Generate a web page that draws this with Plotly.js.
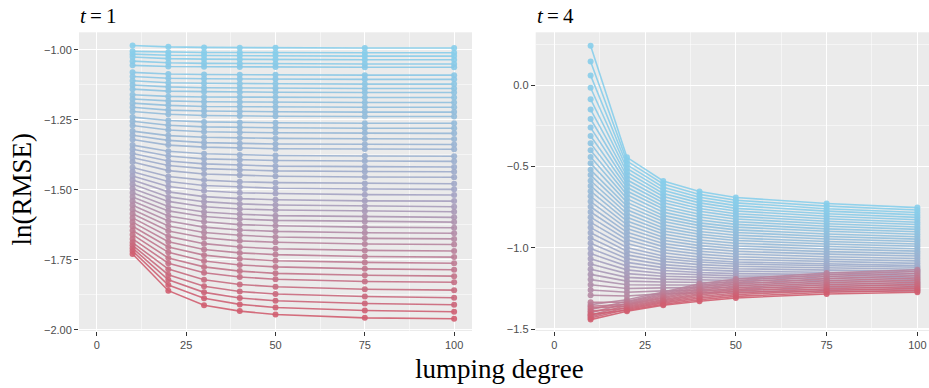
<!DOCTYPE html>
<html><head><meta charset="utf-8">
<script src="https://cdn.plot.ly/plotly-3.0.1.min.js"></script>
<style>html,body{margin:0;padding:0;background:#fff}</style>
</head><body><div id="chart" style="width:929px;height:388px"></div>
<script>
const lumping = [10, 20, 30, 40, 50, 75, 100];

// t = 1 panel: ln(RMSE) of each series at each lumping degree
const t1_d10 = [-0.984,-1.005,-1.015,-1.025,-1.040,-1.055,-1.080,-1.095,-1.110,-1.125,
-1.140,-1.160,-1.175,-1.190,-1.205,-1.220,-1.240,-1.255,-1.270,-1.290,
-1.305,-1.320,-1.340,-1.355,-1.370,-1.385,-1.400,-1.420,-1.435,-1.450,
-1.465,-1.480,-1.495,-1.510,-1.525,-1.540,-1.555,-1.570,-1.585,-1.600,
-1.615,-1.630,-1.645,-1.660,-1.675,-1.688,-1.698,-1.708,-1.718,-1.729];
const t1_d20 = [-0.989,-1.008,-1.019,-1.031,-1.046,-1.059,-1.086,-1.101,-1.117,-1.132,
-1.147,-1.166,-1.182,-1.198,-1.215,-1.230,-1.252,-1.269,-1.286,-1.306,
-1.323,-1.340,-1.362,-1.379,-1.397,-1.413,-1.431,-1.452,-1.470,-1.488,
-1.507,-1.525,-1.541,-1.559,-1.575,-1.593,-1.611,-1.629,-1.647,-1.666,
-1.685,-1.704,-1.723,-1.743,-1.762,-1.783,-1.803,-1.821,-1.840,-1.860];
const t1_d30 = [-0.991,-1.009,-1.020,-1.033,-1.048,-1.060,-1.088,-1.103,-1.119,-1.135,
-1.149,-1.168,-1.185,-1.202,-1.218,-1.234,-1.257,-1.275,-1.292,-1.312,
-1.331,-1.347,-1.371,-1.389,-1.407,-1.424,-1.443,-1.465,-1.484,-1.503,
-1.524,-1.542,-1.560,-1.579,-1.595,-1.614,-1.633,-1.652,-1.671,-1.692,
-1.713,-1.733,-1.754,-1.775,-1.796,-1.821,-1.844,-1.866,-1.887,-1.912];
const t1_d40 = [-0.992,-1.009,-1.021,-1.034,-1.049,-1.061,-1.089,-1.104,-1.121,-1.136,
-1.151,-1.169,-1.186,-1.203,-1.220,-1.236,-1.259,-1.277,-1.295,-1.315,
-1.334,-1.351,-1.375,-1.393,-1.412,-1.429,-1.448,-1.471,-1.490,-1.510,
-1.531,-1.550,-1.568,-1.587,-1.604,-1.624,-1.643,-1.662,-1.682,-1.704,
-1.725,-1.746,-1.768,-1.790,-1.811,-1.838,-1.863,-1.886,-1.909,-1.933];
const t1_d50 = [-0.992,-1.010,-1.021,-1.034,-1.049,-1.061,-1.089,-1.104,-1.121,-1.137,
-1.151,-1.169,-1.187,-1.204,-1.221,-1.237,-1.260,-1.278,-1.296,-1.316,
-1.336,-1.353,-1.377,-1.395,-1.415,-1.432,-1.451,-1.474,-1.494,-1.513,
-1.535,-1.554,-1.572,-1.592,-1.609,-1.628,-1.648,-1.668,-1.687,-1.710,
-1.731,-1.753,-1.775,-1.798,-1.819,-1.846,-1.872,-1.896,-1.920,-1.945];
const t1_d75 = [-0.993,-1.010,-1.022,-1.035,-1.050,-1.062,-1.090,-1.105,-1.122,-1.138,
-1.152,-1.170,-1.188,-1.205,-1.222,-1.238,-1.262,-1.280,-1.297,-1.317,
-1.337,-1.354,-1.379,-1.397,-1.417,-1.434,-1.454,-1.477,-1.497,-1.517,
-1.539,-1.558,-1.576,-1.596,-1.613,-1.633,-1.653,-1.673,-1.693,-1.716,
-1.738,-1.759,-1.782,-1.805,-1.827,-1.855,-1.881,-1.906,-1.931,-1.957];
const t1_d100 = [-0.993,-1.010,-1.022,-1.035,-1.050,-1.062,-1.090,-1.105,-1.122,-1.138,
-1.152,-1.170,-1.188,-1.205,-1.222,-1.238,-1.262,-1.280,-1.298,-1.318,
-1.338,-1.355,-1.380,-1.398,-1.418,-1.435,-1.455,-1.478,-1.498,-1.518,
-1.540,-1.560,-1.578,-1.598,-1.615,-1.635,-1.655,-1.675,-1.695,-1.718,
-1.740,-1.762,-1.785,-1.808,-1.830,-1.858,-1.885,-1.910,-1.935,-1.960];

// t = 4 panel
const t4_d10 = [0.243,0.146,0.060,-0.016,-0.086,-0.150,-0.208,-0.261,-0.313,-0.358,
-0.401,-0.442,-0.481,-0.521,-0.553,-0.588,-0.620,-0.652,-0.684,-0.716,
-0.748,-0.780,-0.812,-0.844,-0.876,-0.908,-0.940,-0.972,-1.004,-1.036,
-1.068,-1.100,-1.132,-1.164,-1.196,-1.228,-1.260,-1.292,
-1.350,-1.380,-1.335,-1.400,-1.360,-1.415,-1.370,-1.425,-1.390,-1.432,-1.410,-1.442];
const t4_d20 = [-0.444,-0.467,-0.490,-0.513,-0.536,-0.559,-0.582,-0.605,-0.628,-0.651,
-0.674,-0.698,-0.721,-0.744,-0.767,-0.790,-0.813,-0.836,-0.859,-0.882,
-0.905,-0.928,-0.951,-0.974,-0.998,-1.021,-1.044,-1.067,-1.090,-1.113,
-1.136,-1.159,-1.182,-1.205,-1.228,-1.251,-1.274,-1.297,
-1.320,-1.328,-1.335,-1.342,-1.348,-1.354,-1.360,-1.366,-1.372,-1.378,-1.384,-1.391];
const t4_d30 = [-0.589,-0.608,-0.628,-0.647,-0.666,-0.685,-0.705,-0.723,-0.743,-0.762,
-0.781,-0.801,-0.820,-0.839,-0.859,-0.878,-0.897,-0.916,-0.935,-0.954,
-0.974,-0.993,-1.012,-1.031,-1.051,-1.068,-1.085,-1.104,-1.122,-1.140,
-1.158,-1.175,-1.193,-1.211,-1.229,-1.247,-1.265,-1.282,
-1.272,-1.280,-1.288,-1.296,-1.304,-1.311,-1.318,-1.325,-1.332,-1.339,-1.347,-1.354];
const t4_d40 = [-0.654,-0.672,-0.689,-0.707,-0.724,-0.742,-0.759,-0.776,-0.794,-0.811,
-0.829,-0.847,-0.864,-0.882,-0.900,-0.917,-0.934,-0.952,-0.969,-0.987,
-1.004,-1.022,-1.039,-1.057,-1.074,-1.088,-1.104,-1.120,-1.136,-1.152,
-1.167,-1.183,-1.198,-1.214,-1.229,-1.245,-1.260,-1.276,
-1.222,-1.232,-1.242,-1.252,-1.262,-1.272,-1.281,-1.290,-1.300,-1.310,-1.320,-1.329];
const t4_d50 = [-0.691,-0.708,-0.724,-0.741,-0.758,-0.774,-0.791,-0.807,-0.823,-0.840,
-0.856,-0.873,-0.890,-0.906,-0.923,-0.940,-0.955,-0.972,-0.989,-1.005,
-1.022,-1.038,-1.055,-1.072,-1.088,-1.100,-1.114,-1.129,-1.144,-1.159,
-1.173,-1.187,-1.201,-1.215,-1.230,-1.244,-1.258,-1.272,
-1.192,-1.202,-1.213,-1.224,-1.235,-1.246,-1.256,-1.267,-1.278,-1.288,-1.299,-1.309];
const t4_d75 = [-0.728,-0.744,-0.760,-0.775,-0.791,-0.806,-0.822,-0.837,-0.852,-0.868,
-0.884,-0.899,-0.915,-0.931,-0.946,-0.962,-0.977,-0.992,-1.008,-1.024,
-1.039,-1.055,-1.071,-1.086,-1.101,-1.112,-1.125,-1.139,-1.153,-1.165,
-1.178,-1.191,-1.204,-1.217,-1.230,-1.243,-1.256,-1.268,
-1.155,-1.165,-1.177,-1.190,-1.203,-1.215,-1.228,-1.240,-1.252,-1.263,-1.274,-1.284];
const t4_d100 = [-0.753,-0.768,-0.783,-0.798,-0.813,-0.828,-0.843,-0.857,-0.872,-0.887,
-0.902,-0.917,-0.932,-0.947,-0.962,-0.977,-0.991,-1.006,-1.021,-1.036,
-1.051,-1.066,-1.081,-1.096,-1.110,-1.120,-1.132,-1.145,-1.158,-1.170,
-1.182,-1.194,-1.206,-1.218,-1.230,-1.242,-1.254,-1.266,
-1.135,-1.146,-1.158,-1.172,-1.186,-1.199,-1.212,-1.225,-1.238,-1.250,-1.262,-1.274];

const panelTitles = ['<i>t</i>\u2009=\u20091', '<i>t</i>\u2009=\u20094'];
const xTitle = 'lumping degree';
const yTitle = 'ln(RMSE)';
const xTicks = [0, 25, 50, 75, 100];

// colour ramp: sky blue -> grey-violet -> rose red
const stops = [[135,206,235],[162,166,198],[208,94,112]];
function rampColor(t, a) {
  t = Math.pow(t, 1.25);
  let c0, c1, u;
  if (t <= 0.5) { c0 = stops[0]; c1 = stops[1]; u = t / 0.5; }
  else { c0 = stops[1]; c1 = stops[2]; u = (t - 0.5) / 0.5; }
  const c = c0.map((v, k) => Math.round(v + (c1[k] - v) * u));
  return 'rgba(' + c[0] + ',' + c[1] + ',' + c[2] + ',' + a + ')';
}

function buildTraces(cols, xa, ya) {
  const n = cols[0].length;
  const out = [];
  for (let i = 0; i < n; i++) {
    const col = rampColor(i / (n - 1), 0.9);
    out.push({
      type: 'scatter', mode: 'lines+markers',
      x: lumping, y: cols.map(c => c[i]),
      xaxis: xa, yaxis: ya,
      line: {color: col, width: 1.6},
      marker: {color: col, size: 6},
      hoverinfo: 'skip', showlegend: false
    });
  }
  return out;
}

const traces = buildTraces([t1_d10,t1_d20,t1_d30,t1_d40,t1_d50,t1_d75,t1_d100], 'x', 'y')
  .concat(buildTraces([t4_d10,t4_d20,t4_d30,t4_d40,t4_d50,t4_d75,t4_d100], 'x2', 'y2'));

const tickFont = {family: 'Liberation Sans, Arial, sans-serif', size: 11, color: '#4d4d4d'};
const common = {
  showgrid: true, gridcolor: '#ffffff', gridwidth: 1.1, zeroline: false, showline: false,
  ticks: 'outside', ticklen: 4, tickwidth: 1, tickcolor: '#333333', tickfont: tickFont
};
const W = 929, H = 388;
const yDom = [1 - 331 / H, 1 - 32.3 / H];

const layout = {
  width: W, height: H,
  margin: {l: 0, r: 0, t: 0, b: 0},
  paper_bgcolor: '#ffffff', plot_bgcolor: '#EBEBEB',
  showlegend: false,
  xaxis: Object.assign({}, common, {domain: [79 / W, 472 / W], range: [-5, 105], anchor: 'y',
    tickmode: 'array', tickvals: xTicks,
    minor: {tick0: 0, dtick: 12.5, showgrid: true, gridcolor: '#ffffff', gridwidth: 0.5, ticks: ''}}),
  yaxis: Object.assign({}, common, {domain: yDom, range: [-2.004, -0.937], anchor: 'x',
    tick0: -2, dtick: 0.25, tickformat: '.2f',
    minor: {tick0: -2, dtick: 0.125, showgrid: true, gridcolor: '#ffffff', gridwidth: 0.5, ticks: ''}}),
  xaxis2: Object.assign({}, common, {domain: [535.7 / W, 1], range: [-5.12, 103.2], anchor: 'y2',
    tickmode: 'array', tickvals: xTicks,
    minor: {tick0: 0, dtick: 12.5, showgrid: true, gridcolor: '#ffffff', gridwidth: 0.5, ticks: ''}}),
  yaxis2: Object.assign({}, common, {domain: yDom, range: [-1.512, 0.325], anchor: 'x2',
    tick0: 0, dtick: 0.5, tickformat: '.1f',
    minor: {tick0: 0, dtick: 0.25, showgrid: true, gridcolor: '#ffffff', gridwidth: 0.5, ticks: ''}}),
  annotations: [
    {text: panelTitles[0], xref: 'paper', yref: 'paper', x: 78 / W, y: 1 - 16 / H,
     xanchor: 'left', yanchor: 'middle', showarrow: false,
     font: {family: 'Liberation Serif, serif', size: 21, color: '#000'}},
    {text: panelTitles[1], xref: 'paper', yref: 'paper', x: 535 / W, y: 1 - 16 / H,
     xanchor: 'left', yanchor: 'middle', showarrow: false,
     font: {family: 'Liberation Serif, serif', size: 21, color: '#000'}},
    {text: yTitle, xref: 'paper', yref: 'paper', x: 21.5 / W, y: 1 - 189 / H,
     xanchor: 'center', yanchor: 'middle', textangle: -90, showarrow: false,
     font: {family: 'Liberation Serif, serif', size: 27, color: '#000'}},
    {text: xTitle, xref: 'paper', yref: 'paper', x: 499 / W, y: 1 - 369 / H,
     xanchor: 'center', yanchor: 'middle', showarrow: false,
     font: {family: 'Liberation Serif, serif', size: 27, color: '#000'}}
  ]
};

Plotly.newPlot('chart', traces, layout, {staticPlot: true, displayModeBar: false});
</script>
</body></html>
